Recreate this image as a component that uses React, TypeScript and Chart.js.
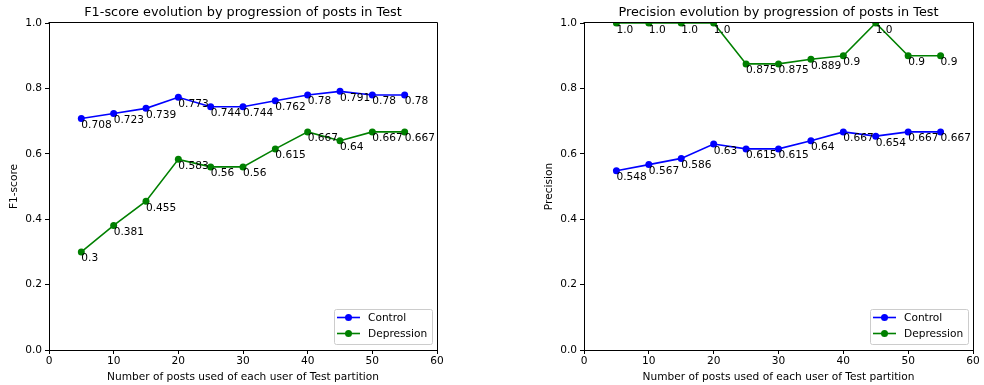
import React, { useEffect, useRef } from "react";
import { Chart, registerables } from "chart.js";

Chart.register(...registerables);

// Number of posts per user used for evaluation
const postCounts = [5, 10, 15, 20, 25, 30, 35, 40, 45, 50, 55];

// F1-score per class
const f1Control = [0.708, 0.723, 0.739, 0.773, 0.744, 0.744, 0.762, 0.78, 0.791, 0.78, 0.78];
const f1Depression = [0.3, 0.381, 0.455, 0.583, 0.56, 0.56, 0.615, 0.667, 0.64, 0.667, 0.667];

// Precision per class
const precControl = [0.548, 0.567, 0.586, 0.63, 0.615, 0.615, 0.64, 0.667, 0.654, 0.667, 0.667];
const precDepression = [1.0, 1.0, 1.0, 1.0, 0.875, 0.875, 0.889, 0.9, 1.0, 0.9, 0.9];

const xTicks = [0, 10, 20, 30, 40, 50, 60];
const yTicks = [0, 0.2, 0.4, 0.6, 0.8, 1.0];

const seriesNames = ["Control", "Depression"];
const seriesColors = ["#0000ff", "#008000"];

const FONT = "DejaVu Sans";
const TICK_SIZE = 10.6;
const TITLE_SIZE = 12.85;
const CANVAS_W = 492;
const CANVAS_H = 385;

// Python-style float formatting (1.0 stays "1.0")
const fmt = (v: number) => (Number.isInteger(v) ? v.toFixed(1) : String(v));

type PanelSpec = {
  title: string;
  yLabel: string;
  control: number[];
  depression: number[];
  yAxisWidth: number;
  rightPad: number;
  yTitleOffset: number;
};

// Axes frame (top and right spines), value annotations, title and legend
const decorPlugin = {
  id: "decor",
  afterDatasetsDraw(chart: any, _args: any, opts: any) {
    const { ctx, chartArea } = chart;
    const { left, right, top, bottom } = chartArea;
    ctx.save();

    // top & right spines
    ctx.strokeStyle = "#000";
    ctx.lineWidth = 1;
    ctx.beginPath();
    ctx.moveTo(Math.round(left) - 0.5, Math.round(top) - 0.5);
    ctx.lineTo(Math.round(right) + 0.5, Math.round(top) - 0.5);
    ctx.lineTo(Math.round(right) + 0.5, Math.round(bottom) + 0.5);
    ctx.stroke();

    // value annotations
    ctx.fillStyle = "#000";
    ctx.font = `${TICK_SIZE}px "${FONT}"`;
    ctx.textAlign = "left";
    ctx.textBaseline = "top";
    chart.data.datasets.forEach((ds: any, di: number) => {
      const meta = chart.getDatasetMeta(di);
      meta.data.forEach((pt: any, i: number) => {
        ctx.fillText(fmt(ds.data[i].y), pt.x, pt.y + 1.5);
      });
    });

    // title
    ctx.font = `${TITLE_SIZE}px "${FONT}"`;
    ctx.textAlign = "center";
    ctx.textBaseline = "middle";
    ctx.fillText(opts.title, (left + right) / 2, 12.5);

    // legend (lower right, inside axes)
    const lw = 98;
    const lh = 35;
    const lx = right - 5 - lw;
    const ly = bottom - 6 - lh;
    ctx.beginPath();
    ctx.roundRect(lx + 0.5, ly + 0.5, lw, lh, 2);
    ctx.fillStyle = "rgba(255,255,255,0.8)";
    ctx.fill();
    ctx.strokeStyle = "#cccccc";
    ctx.stroke();
    ctx.font = `${TICK_SIZE}px "${FONT}"`;
    ctx.textAlign = "left";
    seriesNames.forEach((name, i) => {
      const cy = ly + 8.5 + i * 16;
      ctx.strokeStyle = seriesColors[i];
      ctx.lineWidth = 1.6;
      ctx.beginPath();
      ctx.moveTo(lx + 3, cy);
      ctx.lineTo(lx + 26, cy);
      ctx.stroke();
      ctx.fillStyle = seriesColors[i];
      ctx.beginPath();
      ctx.arc(lx + 14.5, cy, 3.5, 0, Math.PI * 2);
      ctx.fill();
      ctx.fillStyle = "#000";
      ctx.fillText(name, lx + 34, cy + 0.5);
    });

    ctx.restore();
  },
};

function makeConfig(spec: PanelSpec): any {
  const toPoints = (vals: number[]) => vals.map((v, i) => ({ x: postCounts[i], y: v }));
  const dataset = (label: string, vals: number[], color: string) => ({
    label,
    data: toPoints(vals),
    borderColor: color,
    backgroundColor: color,
    borderWidth: 1.6,
    pointRadius: 3.5,
    pointBorderWidth: 0,
    pointBackgroundColor: color,
    tension: 0,
  });
  const tickFont = { family: FONT, size: TICK_SIZE };
  const grid = {
    drawOnChartArea: false,
    drawTicks: true,
    tickLength: 4,
    color: "#000",
    tickColor: "#000",
    lineWidth: 1,
  };
  return {
    type: "line",
    data: {
      datasets: [
        dataset(seriesNames[0], spec.control, seriesColors[0]),
        dataset(seriesNames[1], spec.depression, seriesColors[1]),
      ],
    },
    options: {
      responsive: false,
      animation: false,
      layout: { padding: { left: 0, right: spec.rightPad, top: 23, bottom: 0 } },
      plugins: {
        legend: { display: false },
        tooltip: { enabled: false },
        title: { display: false },
        decor: { title: spec.title },
      },
      scales: {
        x: {
          type: "linear",
          min: 0,
          max: 60,
          afterBuildTicks: (s: any) => {
            s.ticks = xTicks.map((v) => ({ value: v }));
          },
          afterFit: (s: any) => {
            s.height = 35;
          },
          grid,
          border: { display: true, color: "#000", width: 1 },
          ticks: { font: tickFont, color: "#000", padding: 1, maxRotation: 0, autoSkip: false },
          title: {
            display: true,
            text: "Number of posts used of each user of Test partition",
            font: tickFont,
            color: "#000",
            padding: { top: 0, bottom: 1.4 },
          },
        },
        y: {
          type: "linear",
          min: 0,
          max: 1,
          afterBuildTicks: (s: any) => {
            s.ticks = yTicks.map((v) => ({ value: v }));
          },
          afterFit: (s: any) => {
            s.width = spec.yAxisWidth;
          },
          grid,
          border: { display: true, color: "#000", width: 1 },
          ticks: {
            font: tickFont,
            color: "#000",
            padding: 3,
            autoSkip: false,
            callback: (v: number) => v.toFixed(1),
          },
          title: {
            display: true,
            text: spec.yLabel,
            font: tickFont,
            color: "#000",
            padding: { top: spec.yTitleOffset, bottom: 0 },
          },
        },
      },
    },
    plugins: [decorPlugin],
  };
}

function Panel({ spec, left }: { spec: PanelSpec; left: number }) {
  const ref = useRef<HTMLCanvasElement>(null);
  useEffect(() => {
    if (!ref.current) return;
    const chart = new Chart(ref.current, makeConfig(spec));
    return () => chart.destroy();
  }, [spec]);
  return (
    <canvas
      ref={ref}
      width={CANVAS_W}
      height={CANVAS_H}
      style={{ position: "absolute", left, top: 0, width: CANVAS_W, height: CANVAS_H }}
    />
  );
}

const f1Spec: PanelSpec = {
  title: "F1-score evolution by progression of posts in Test",
  yLabel: "F1-score",
  control: f1Control,
  depression: f1Depression,
  yAxisWidth: 49,
  rightPad: 55,
  yTitleOffset: 7.8,
};

const precisionSpec: PanelSpec = {
  title: "Precision evolution by progression of posts in Test",
  yLabel: "Precision",
  control: precControl,
  depression: precDepression,
  yAxisWidth: 92,
  rightPad: 11,
  yTitleOffset: 50.6,
};

export default function App() {
  return (
    <div
      style={{
        position: "fixed",
        left: 0,
        top: 0,
        width: 984,
        height: 385,
        background: "#fff",
        overflow: "hidden",
      }}
    >
      <Panel spec={f1Spec} left={0} />
      <Panel spec={precisionSpec} left={CANVAS_W} />
    </div>
  );
}
